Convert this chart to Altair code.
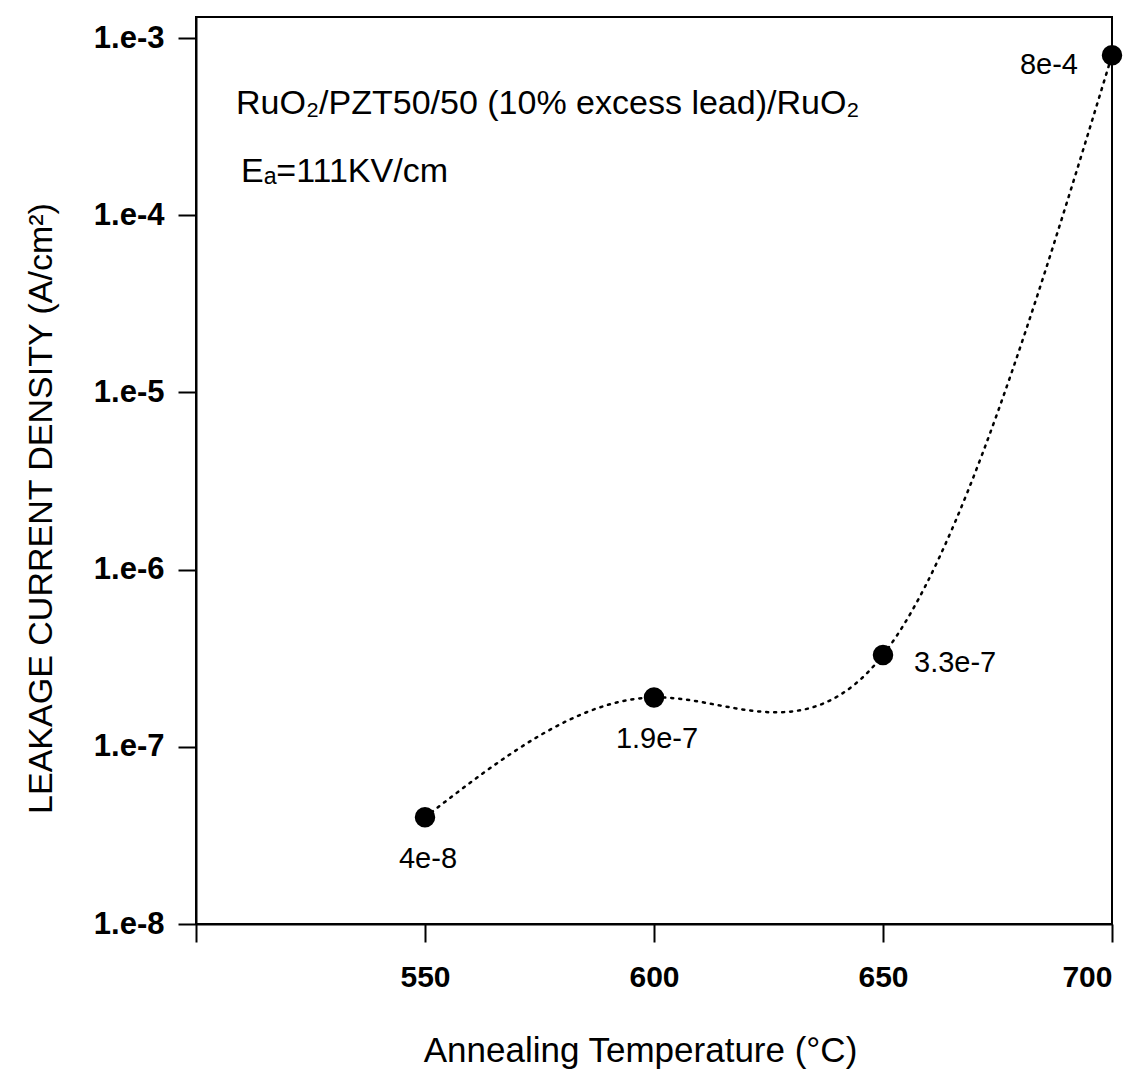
import altair as alt
import pandas as pd

temps = [550, 600, 650, 700]
leak = [4e-8, 1.9e-7, 3.3e-7, 8e-4]
labels = ["4e-8", "1.9e-7", "3.3e-7", "8e-4"]
y_ticks = [1e-8, 1e-7, 1e-6, 1e-5, 1e-4, 1e-3]
x_ticks = [500, 550, 600, 650, 700]
annot_lines = ["RuO\u2082/PZT50/50 (10% excess lead)/RuO\u2082", "E\u2090=111KV/cm"]

df = pd.DataFrame({"T": temps, "J": leak, "lab": labels})

FONT = "Liberation Sans"

xs = alt.Scale(domain=[500, 700], nice=False, zero=False)
ys = alt.Scale(type="log", domain=[1e-8, 1.314e-3], nice=False)

xenc = alt.X("T:Q", scale=xs, axis=alt.Axis(
    values=x_ticks, labelExpr="datum.value == 500 ? '' : datum.label",
    title="Annealing Temperature (°C)", titleFontSize=35, titleFont=FONT,
    titleFontWeight="normal", titleColor="black",
    titleX=444, titleY=126, titleBaseline="middle", titleAnchor="middle",
    labelFont=FONT, labelFontSize=30, labelFontWeight="bold", labelColor="black",
    labelPadding=20, tickSize=18, tickWidth=2, tickColor="black",
    domainColor="black", domainWidth=2, grid=False))
yenc = alt.Y("J:Q", scale=ys, axis=alt.Axis(
    values=y_ticks, labelExpr="'1.e' + round(log(datum.value)/LN10)",
    title="LEAKAGE CURRENT DENSITY (A/cm²)", titleFontSize=34, titleFont=FONT,
    titleFontWeight="normal", titleColor="black",
    titleX=-155, titleY=491, titleBaseline="middle", titleAngle=-90,
    labelFont=FONT, labelFontSize=31, labelFontWeight="bold", labelColor="black",
    labelPadding=14, tickSize=18, tickWidth=2, tickColor="black",
    domainColor="black", domainWidth=2, grid=False))

base = alt.Chart(df)

line = base.mark_line(interpolate="natural", color="black", strokeWidth=2.5,
                      strokeDash=[2, 6], strokeCap="round").encode(x=xenc, y=yenc)
pts = base.mark_point(filled=True, color="black", size=420, opacity=1).encode(x="T:Q", y="J:Q")

below = base.transform_filter("datum.T <= 600").mark_text(
    font=FONT, fontSize=29, color="black", align="center", baseline="middle", dy=42, dx=3
).encode(x="T:Q", y="J:Q", text="lab:N")
right = base.transform_filter("datum.T == 650").mark_text(
    font=FONT, fontSize=29, color="black", align="left", baseline="middle", dx=31, dy=8
).encode(x="T:Q", y="J:Q", text="lab:N")
left = base.transform_filter("datum.T == 700").mark_text(
    font=FONT, fontSize=29, color="black", align="right", baseline="middle", dx=-34, dy=10
).encode(x="T:Q", y="J:Q", text="lab:N")

annot_df = pd.DataFrame({"t": annot_lines, "i": [0, 1]})
annot1 = alt.Chart(annot_df).transform_filter("datum.i == 0").mark_text(
    font=FONT, fontSize=34, color="black", align="left", baseline="middle"
).encode(x=alt.value(40), y=alt.value(87), text="t:N")
annot2 = alt.Chart(annot_df).transform_filter("datum.i == 1").mark_text(
    font=FONT, fontSize=34, color="black", align="left", baseline="middle"
).encode(x=alt.value(45), y=alt.value(155), text="t:N")

chart = alt.layer(line, pts, below, right, left, annot1, annot2).properties(
    width=916, height=907,
    autosize=alt.AutoSizeParams(type="none"),
    padding={"left": 196, "top": 17, "right": 28, "bottom": 156},
    background="white",
).configure_view(stroke="black", strokeWidth=2)

chart.save("out.html", embed_options={"renderer": "svg", "actions": False})
